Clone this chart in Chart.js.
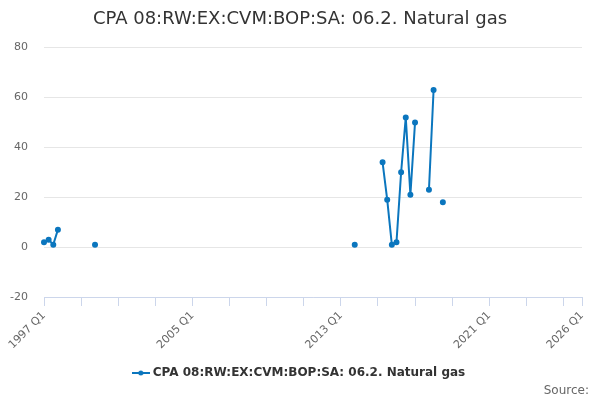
<!DOCTYPE html>
<html>
<head>
<meta charset="utf-8">
<script src="https://cdn.jsdelivr.net/npm/chart.js@4"></script>
<style>
  body { margin: 0; background: #fff; }
  #wrap { position: relative; width: 600px; height: 400px; }
  #source { position: absolute; right: 11px; top: 383px; font: 12px "DejaVu Sans", sans-serif; color: #666; }
</style>
</head>
<body>
<div id="wrap">
  <canvas id="chartCanvas" width="600" height="400"></canvas>
  <div id="source">Source:</div>
</div>
<script>
const seriesName = "CPA 08:RW:EX:CVM:BOP:SA: 06.2. Natural gas";
const firstYear = 1997;
const lastYear = 2026;

const obsQuarters = [
    "1997 Q1", "1997 Q2", "1997 Q3", "1997 Q4",
    "1999 Q4",
    "2013 Q4",
    "2015 Q2", "2015 Q3", "2015 Q4", "2016 Q1", "2016 Q2", "2016 Q3", "2016 Q4", "2017 Q1",
    "2017 Q4", "2018 Q1",
    "2018 Q3"
];
const obsValues = [
    2, 3, 1, 7,
    1,
    1,
    34, 19, 1, 2, 30, 52, 21, 50,
    23, 63,
    18
];
const yTicks = [-20, 0, 20, 40, 60, 80];

const quarters = [];
for (let y = firstYear; y <= lastYear; y++) {
    for (let q = 1; q <= 4; q++) {
        if (y === lastYear && q > 1) break;
        quarters.push(y + " Q" + q);
    }
}
const values = quarters.map(label => {
    const i = obsQuarters.indexOf(label);
    return i >= 0 ? obsValues[i] : null;
});

const blue = "#0b76be";

// legend marker: short line with a dot
const marker = document.createElement("canvas");
marker.width = 18;
marker.height = 10;
const mctx = marker.getContext("2d");
mctx.strokeStyle = blue;
mctx.lineWidth = 2;
mctx.beginPath();
mctx.moveTo(0, 5);
mctx.lineTo(18, 5);
mctx.stroke();
mctx.fillStyle = blue;
mctx.beginPath();
mctx.arc(9, 5, 2.5, 0, Math.PI * 2);
mctx.fill();

const chart = new Chart(document.getElementById("chartCanvas"), {
    type: "line",
    data: {
        labels: quarters,
        datasets: [{
            label: seriesName,
            data: values,
            borderColor: blue,
            backgroundColor: blue,
            borderWidth: 2,
            pointRadius: 2,
            pointHoverRadius: 3,
            spanGaps: false,
            tension: 0
        }]
    },
    options: {
        responsive: false,
        animation: false,
        layout: { padding: { left: 0, right: 0, top: 0, bottom: 11 } },
        plugins: {
            title: {
                display: true,
                text: seriesName,
                color: "#333",
                font: { family: "DejaVu Sans", size: 18, weight: "normal" },
                padding: { top: 9, bottom: 17 }
            },
            legend: {
                position: "bottom",
                labels: {
                    usePointStyle: true,
                    pointStyle: marker,
                    color: "#333",
                    font: { family: "DejaVu Sans", size: 12, weight: "bold" },
                    padding: 10
                }
            },
            tooltip: { enabled: false }
        },
        scales: {
            x: {
                grid: {
                    drawOnChartArea: false,
                    color: "#ccd6eb",
                    tickLength: 9
                },
                border: { color: "#ccd6eb" },
                ticks: {
                    autoSkip: false,
                    maxRotation: 45,
                    minRotation: 45,
                    color: "#666",
                    font: { family: "DejaVu Sans", size: 11 },
                    callback: function (value, index) {
                        if (index % 32 === 0 || index === quarters.length - 1) return this.getLabelForValue(value);
                        if (index % 8 === 0) return "";
                        return null;
                    }
                },
                afterFit: scale => { scale.height = 60; }
            },
            y: {
                min: yTicks[0],
                max: yTicks[yTicks.length - 1],
                grid: { color: "#e6e6e6", drawTicks: false },
                border: { display: false },
                ticks: {
                    stepSize: 20,
                    padding: 16,
                    color: "#666",
                    font: { family: "DejaVu Sans", size: 11 }
                },
                afterFit: scale => { scale.width = 44; }
            },
            // empty right-hand margin so the title and legend stay centred on the page
            yRight: {
                position: "right",
                min: yTicks[0],
                max: yTicks[yTicks.length - 1],
                grid: { display: false },
                border: { display: false },
                ticks: { display: false },
                afterFit: scale => { scale.width = 18; }
            }
        }
    }
});
</script>
</body>
</html>
